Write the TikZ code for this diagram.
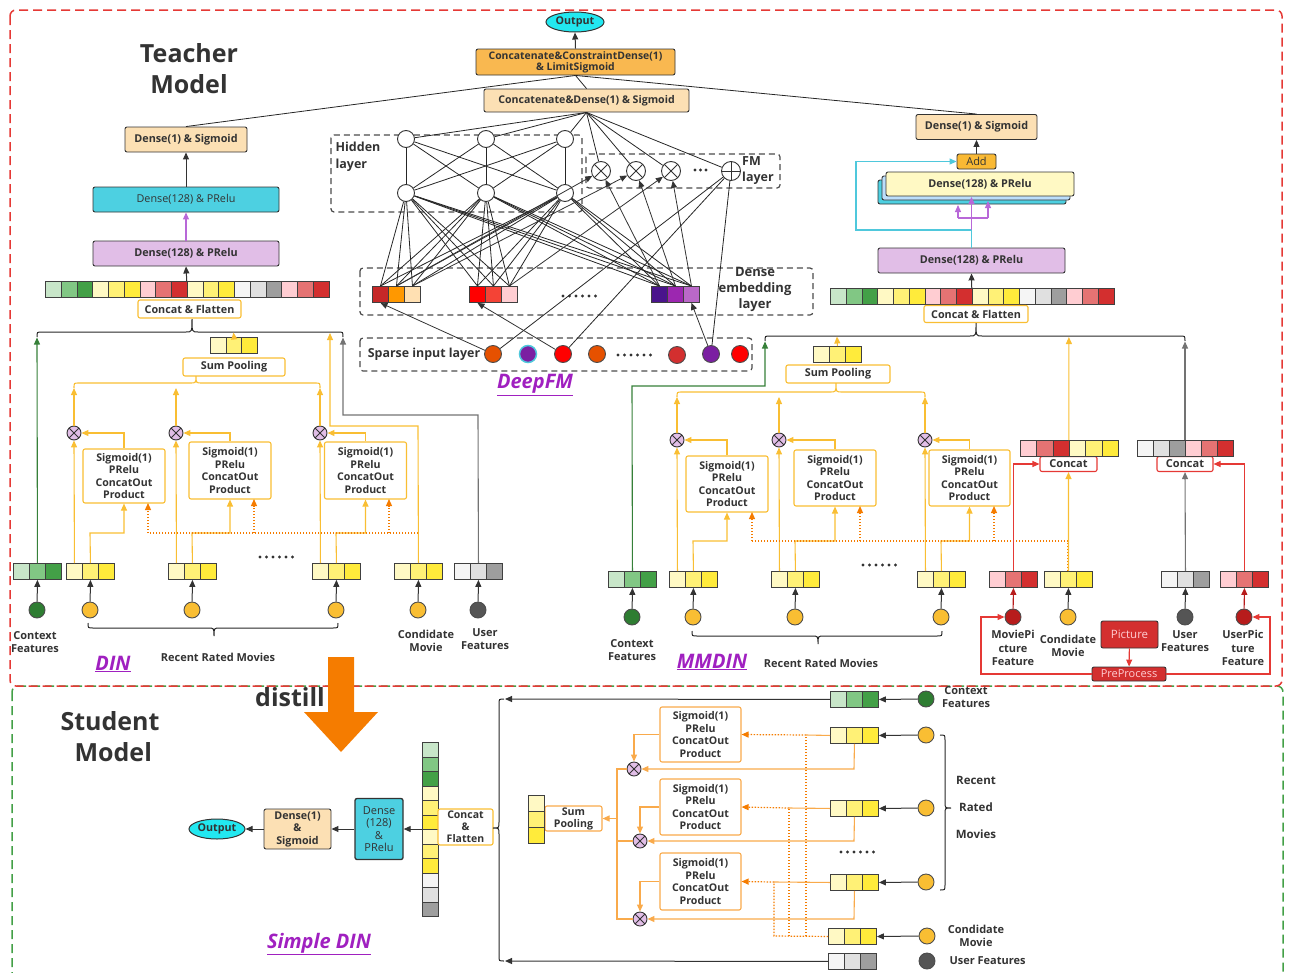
\documentclass[tikz,border=0pt]{standalone}
\usepackage{fontspec}
\setmainfont{Open Sans}
\usetikzlibrary{arrows.meta,shapes.geometric}
\definecolor{g1}{HTML}{C8E6C9}\definecolor{g2}{HTML}{81C784}\definecolor{g3}{HTML}{43A047}
\definecolor{y1}{HTML}{FFF9C4}\definecolor{y2}{HTML}{FFF176}\definecolor{y3}{HTML}{FFEB3B}
\definecolor{r1}{HTML}{FFCDD2}\definecolor{r2}{HTML}{E57373}\definecolor{r3}{HTML}{D32F2F}
\definecolor{w1}{HTML}{F5F5F5}\definecolor{w2}{HTML}{E0E0E0}\definecolor{w3}{HTML}{9E9E9E}
\definecolor{amb}{HTML}{F9BE33}\definecolor{dotc}{HTML}{F57C00}\definecolor{lor}{HTML}{F9AA4B}
\definecolor{cPeach}{HTML}{FCE0B4}\definecolor{cLav}{HTML}{E1BEE7}\definecolor{cTeal}{HTML}{4DD0E1}
\definecolor{cOrg}{HTML}{F9B850}\definecolor{cOut}{HTML}{22E8F0}\definecolor{cPur}{HTML}{A020C0}
\definecolor{cLB}{HTML}{BBDEFB}\definecolor{cAdd}{HTML}{F9B934}\definecolor{txt}{HTML}{333333}
\definecolor{cRed}{HTML}{E53935}\definecolor{dgreen}{HTML}{2E7D32}\definecolor{dgrey}{HTML}{555555}
\definecolor{dred}{HTML}{B71C1C}\definecolor{cyl}{HTML}{4FC8DC}\definecolor{purl}{HTML}{B868D8}
\definecolor{e11}{HTML}{C62828}\definecolor{e12}{HTML}{FF9800}\definecolor{e13}{HTML}{FFE0B2}
\definecolor{e21}{HTML}{FF0000}\definecolor{e22}{HTML}{F44336}\definecolor{e23}{HTML}{FFCDD2}
\definecolor{e31}{HTML}{4A148C}\definecolor{e32}{HTML}{9C27B0}\definecolor{e33}{HTML}{BA68C8}
\definecolor{sOr}{HTML}{E65100}\definecolor{sPu}{HTML}{7B1FA2}
\newcommand\fsz[2]{\fontsize{#1}{#2}\selectfont}
\newcommand\hvec[6][16]{\foreach \cc [count=\ii] in {#6}{\node[cell,fill=\cc,minimum width=#5,minimum height=#1,anchor=north west] (#2-\ii) at ({#3+(\ii-1)*#5},#4) {};}}
\newcommand\vvec[6][16]{\foreach \cc [count=\ii] in {#6}{\node[cell,fill=\cc,minimum width=#1,minimum height=#5,anchor=north west] (#2-\ii) at (#3,{#4+(\ii-1)*#5}) {};}}
\newcommand\hbr[7]{\draw[#1] (#2,{#5+(#7)}) .. controls (#2,#5) .. ({#2+5},#5) -- ({#3-6},#5) .. controls (#3,#5) .. (#3,{#5+(#6)}) .. controls (#3,#5) .. ({#3+6},#5) -- ({#4-5},#5) .. controls (#4,#5) .. (#4,{#5+(#7)});}
\newcommand\vbr[7]{\draw[#1] ({#5+(#7)},#2) .. controls (#5,#2) .. (#5,{#2+5}) -- (#5,{#3-6}) .. controls (#5,#3) .. ({#5+(#6)},#3) .. controls (#5,#3) .. (#5,{#3+6}) -- (#5,{#4-5}) .. controls (#5,#4) .. ({#5+(#7)},#4);}
\newcommand\dotrow[2]{\foreach \k in {0,...,5}{\fill[txt] ({#1+\k*6.5},#2) circle (1.7);}}
\begin{document}
\begin{tikzpicture}[x=1pt,y=-1pt,
 every node/.style={font=\bfseries\fsz{10.8}{13}, text=txt},
 box/.style={draw=black!80,line width=0.9,rounded corners=2,align=center,inner sep=0},
 ybox/.style={draw=amb,line width=1.1,rounded corners=2,align=center,inner sep=0,fill=white},
 sig/.style={font=\bfseries\fsz{10.6}{12.5}},
 obox/.style={draw=lor,line width=1.1,rounded corners=2,align=center,inner sep=0,fill=white,font=\bfseries\fsz{10.6}{12.5}},
 rbox/.style={draw=cRed,line width=1.1,rounded corners=2,align=center,inner sep=0,fill=white,font=\bfseries\fsz{11}{12}},
 cell/.style={draw=black!75,line width=0.9,inner sep=0},
 incirc/.style={circle,draw=black!70,line width=0.9,minimum size=16,inner sep=0},
 hn/.style={circle,draw=black!80,line width=0.9,minimum size=17,inner sep=0,fill=white},
 otimes/.style={circle,draw=black!80,line width=0.9,minimum size=14,inner sep=0,fill=cLav,path picture={\draw[line width=0.9] (path picture bounding box.north west)--(path picture bounding box.south east) (path picture bounding box.south west)--(path picture bounding box.north east);}},
 oplus/.style={circle,draw=black!80,line width=0.9,minimum size=19,inner sep=0,fill=white,path picture={\draw[line width=0.9] (path picture bounding box.north)--(path picture bounding box.south) (path picture bounding box.west)--(path picture bounding box.east);}},
 arr/.style={-{Triangle[length=7pt,width=6pt]},line width=1,draw=black!80},
 kl/.style={line width=0.8,draw=black!85},
 yl/.style={line width=1.1,draw=amb},
 yarr/.style={yl,-{Triangle[length=7pt,width=6pt]}},
 ol/.style={line width=1.1,draw=lor},
 oarr/.style={ol,-{Triangle[length=7pt,width=6pt]}},
 dl/.style={line width=1.2,draw=dotc,dash pattern=on 1.5pt off 1.5pt},
 darr/.style={dl,-{Triangle[length=7pt,width=6pt,fill=dotc]}},
 garr/.style={line width=1.1,draw=g3!80!black,-{Triangle[length=7pt,width=6pt]}},
 grarr/.style={line width=1.1,draw=black!55,-{Triangle[length=7pt,width=6pt]}},
 rarr/.style={line width=1.1,draw=cRed,-{Triangle[length=7pt,width=6pt]}},
 parr/.style={line width=1.1,draw=purl,-{Triangle[length=7pt,width=6pt]}},
 dbox/.style={line width=1.2,draw=black!70,dash pattern=on 6pt off 4pt,rounded corners=3},
 lbl/.style={align=center,font=\bfseries\fsz{11}{13.5}},
 title/.style={align=center,font=\bfseries\fsz{25}{31}},
 mlbl/.style={font=\bfseries\itshape\fsz{20}{22},text=cPur}]
\useasboundingbox (0,0) rectangle (1290,972);
% frames
\draw[line width=1.5,draw=g3,dash pattern=on 9pt off 5pt,rounded corners=6] (12,686) rectangle (1283,990);
\draw[line width=1.5,draw=cRed,dash pattern=on 9pt off 5pt,rounded corners=6] (10,10) rectangle (1282,686);
\node[title] at (189,69) {Teacher\\Model};
\node[title] at (110,737) {Student\\\ Model};

% ===== top =====
\node[ellipse,draw=black!80,line width=1,fill=cOut,minimum width=58,minimum height=20,inner sep=0,font=\bfseries\fsz{10.7}{11}] (out) at (575,22) {Output};
\node[box,fill=cOrg,minimum width=199,minimum height=26,font=\bfseries\fsz{10.4}{11.3}] (ccd) at (575.5,62) {Concatenate\&ConstraintDense(1)\\\& LimitSigmoid};
\draw[arr] (ccd.north) -- (out.south);
\node[box,fill=cPeach,minimum width=205,minimum height=23,font=\bfseries\fsz{10.6}{12}] (cds) at (586.5,100.5) {Concatenate\&Dense(1) \& Sigmoid};

% ===== DIN =====
\node[box,fill=cPeach,minimum width=122,minimum height=25] (dD1) at (186,139.5) {Dense(1) \& Sigmoid};
\node[box,fill=cTeal,minimum width=186,minimum height=25,font=\fsz{10.8}{12}] (dT) at (186,199.5) {Dense(128) \& PRelu};
\node[box,fill=cLav,minimum width=186,minimum height=25] (dL) at (186,253.5) {Dense(128) \& PRelu};
\draw[arr] (dT) -- (dD1);
\draw[parr] (dL) -- (dT);
\draw[kl] (ccd.south) -- (dD1.north);
\draw[kl] (ccd.south) -- (cds.north);
\hvec{dF}{45}{281}{15.75}{g1,g2,g3,y1,y2,y3,r1,r2,r3,y1,y2,y3,w1,w2,w3,r1,r2,r3}
\draw[arr] (dF-10.north west) -- (dL.south);
\node[ybox,minimum width=103,minimum height=18] (dCF) at (189.5,309) {Concat \& Flatten};
\hbr{kl,line width=1}{37}{192}{343}{332}{-13}{5}
\hvec{dSP}{210}{337}{15.7}{y1,y2,y3}
\draw[yarr] (dSP-2.north) -- (233.5,332.5);
\node[ybox,minimum width=102,minimum height=18] (dSPb) at (234,367) {Sum Pooling};
\hbr{yl}{74}{196}{320}{383}{-7}{5}
\hvec{dC}{13}{563}{16}{g1,g2,g3}
\hvec{dM1}{66}{563}{16}{y1,y2,y3}
\hvec{dM2}{168}{563}{16}{y1,y2,y3}
\hvec{dM3}{312}{563}{16}{y1,y2,y3}
\hvec{dCa}{394}{563}{16}{y1,y2,y3}
\hvec{dU}{454}{563}{16}{w1,w2,w3}
\node[otimes] (dX1) at (74,433) {};
\node[otimes] (dX2) at (176,433) {};
\node[otimes] (dX3) at (320,433) {};
\foreach \n/\x in {dX1/74,dX2/176,dX3/320}{\draw[yarr] (\n.north) -- (\x,388);}
\node[ybox,sig,minimum width=82,minimum height=54] (dA1) at (124,476) {Sigmoid(1)\\PRelu\\ConcatOut\\Product};
\node[ybox,sig,minimum width=82,minimum height=57] (dA2) at (230,470.5) {Sigmoid(1)\\PRelu\\ConcatOut\\Product};
\node[ybox,sig,minimum width=82,minimum height=57] (dA3) at (365.5,470.5) {Sigmoid(1)\\PRelu\\ConcatOut\\Product};
\draw[yarr] (dA1.north) |- (dX1.east);
\draw[yarr] (dA2.north) |- (dX2.east);
\draw[yarr] (dA3.north) |- (dX3.east);
\draw[yarr] (dM1-1.north) -- (dX1.south);
\draw[yarr] (dM2-1.north) -- (dX2.south);
\draw[yarr] (dM3-1.north) -- (dX3.south);
\draw[yarr] (dM1-2.north) -- (90,533) -| (dA1.south);
\draw[yarr] (dM2-2.north) -- (192,533) -| (dA2.south);
\draw[yarr] (dM3-2.north) -- (336,533) -| (dA3.south);
\draw[dl] (418,533) -- (148,533);
\draw[darr] (148,533) -- (148,503);
\draw[darr] (254,533) -- (254,499);
\draw[darr] (389,533) -- (389,499);
\draw[yarr] (dCa-2.north) -- (418,426) -- (330,426) -- (330,333);
\draw[grarr] (dU-2.north) -- (478,415) -- (343,415) -- (343,337.5);
\draw[garr] (dC-2.north) -- (37,337.5);
\node[incirc,fill=dgreen] (dCi) at (37,610) {};
\node[incirc,fill=amb] (dM1i) at (90,610) {};
\node[incirc,fill=amb] (dM2i) at (192,610) {};
\node[incirc,fill=amb] (dM3i) at (336,610) {};
\node[incirc,fill=amb] (dCai) at (418,610) {};
\node[incirc,fill=dgrey] (dUi) at (478,610) {};
\draw[arr] (dCi) -- (dC-2.south);
\draw[arr] (dM1i) -- (dM1-2.south);
\draw[arr] (dM2i) -- (dM2-2.south);
\draw[arr] (dM3i) -- (dM3-2.south);
\draw[arr] (dCai) -- (dCa-2.south);
\draw[arr] (dUi) -- (dU-2.south);
\dotrow{260}{557}
\hbr{kl,line width=1}{88}{214}{338}{628}{8}{-5}
\node[lbl] at (35,642) {Context\\Features};
\node[lbl] at (218,657) {Recent Rated Movies};
\node[lbl] at (426,641) {Condidate\\Movie};
\node[lbl] at (485,639) {User\\Features};
\node[mlbl] at (113,664) {\underline{DIN}};

% ===== DeepFM =====
\draw[dbox] (331,135) rectangle (582,212);
\node[lbl,align=left,font=\bfseries\fsz{12.5}{17}] at (358,157) {Hidden\\layer};
\node[hn] (h11) at (406,139) {};
\node[hn] (h12) at (486,139) {};
\node[hn] (h13) at (565,139) {};
\node[hn] (h21) at (406,193) {};
\node[hn] (h22) at (486,193) {};
\node[hn] (h23) at (565,193) {};
\draw[dbox] (586,154) rectangle (780,188);
\node[otimes,fill=white,minimum size=19] (fm1) at (601,171) {};
\node[otimes,fill=white,minimum size=19] (fm2) at (636,171) {};
\node[otimes,fill=white,minimum size=19] (fm3) at (671,171) {};
\node[oplus] (fp) at (731,171) {};
\foreach \k in {0,1,2}{\fill[txt] ({695+\k*5.5},170) circle (1.6);}
\node[lbl,align=left,font=\bfseries\fsz{12.5}{16}] at (758,171) {FM\\layer};
\draw[dbox] (360,268) rectangle (813,315);
\draw[dbox] (360,338) rectangle (752,371);
\hvec{e1}{372}{286}{16}{e11,e12,e13}
\hvec{e2}{469}{286}{16}{e21,e22,e23}
\hvec{e3}{651}{286}{16}{e31,e32,e33}
\dotrow{563}{296}
\node[lbl,font=\bfseries\fsz{13}{16}] at (755,289) {Dense\\embedding\\layer};
\node[lbl,font=\bfseries\fsz{12.4}{14}] at (424,354) {Sparse input layer};
\node[incirc,fill=sOr,minimum size=17] (s1) at (493,354) {};
\node[incirc,fill=sPu,draw=cyl,line width=1.5,minimum size=17] (s2) at (528,354) {};
\node[incirc,fill=red,minimum size=17] (s3) at (563,354) {};
\node[incirc,fill=sOr,minimum size=17] (s4) at (597,354) {};
\dotrow{618}{355}
\node[incirc,fill=r3,minimum size=17] (s5) at (677,355) {};
\node[incirc,fill=sPu,minimum size=17] (s6) at (711,354) {};
\node[incirc,fill=red,minimum size=17] (s7) at (740,354) {};
\node[mlbl] at (535,385) {\underline{DeepFM}};
\foreach \t in {h11,h12,h13,fm1,fm2,fm3,fp}{\draw[kl] (cds.south) -- (\t);}
\foreach \a in {h11,h12,h13}{\foreach \b in {h21,h22,h23}{\draw[kl] (\a) -- (\b);}}
\foreach \a in {h21,h22,h23}{\foreach \b in {e1-1,e1-2,e1-3,e2-1,e2-2,e2-3,e3-1,e3-2,e3-3}{\draw[kl] (\a) -- (\b.north);}}
\draw[arr,line width=0.8] (e1-2.north) -- (fm1);
\draw[arr,line width=0.8] (e3-1.north) -- (fm1);
\draw[arr,line width=0.8] (e1-3.north) -- (fm2);
\draw[arr,line width=0.8] (e3-2.north) -- (fm2);
\draw[arr,line width=0.8] (e2-3.north) -- (fm3);
\draw[arr,line width=0.8] (e3-3.north) -- (fm3);
\draw[kl] (fp) -- (s1);
\draw[kl] (fp) -- (s3);
\draw[kl] (fp) -- (s6);
\draw[arr,line width=0.8] (s1) -- (e1-1.south);
\draw[arr,line width=0.8] (s3) -- (e2-1.south);
\draw[arr,line width=0.8] (s6) -- (e3-3.south);

% ===== MMDIN =====
\node[box,fill=cPeach,minimum width=121,minimum height=25] (mD1) at (976.5,127) {Dense(1) \& Sigmoid};
\draw[kl] (ccd.south) -- (mD1.north);
\node[box,fill=cAdd,minimum width=39,minimum height=15,font=\fsz{11}{11}] (add) at (976.5,161.5) {Add};
\draw[arr] (add) -- (mD1);
\node[box,fill=cTeal,minimum width=188,minimum height=24] (mS3) at (972,192) {};
\node[box,fill=cLB,minimum width=188,minimum height=24] (mS2) at (976,188) {};
\node[box,fill=y1,minimum width=188,minimum height=24] (mS) at (980,184) {Dense(128) \& PRelu};
\node[box,fill=cLav,minimum width=187,minimum height=25] (mL) at (971.5,260.5) {Dense(128) \& PRelu};
\draw[line width=1.1,draw=cyl,-{Triangle[length=7pt,width=6pt]}] (mL.north) -- (971.5,230) -- (856,230) -- (856,161.5) -- (add.west);
\draw[parr] (971.5,230) -- (971.5,197);
\draw[line width=1.1,draw=purl] (958,218) -- (988,218);
\draw[parr] (958,218) -- (958,205);
\draw[parr] (988,218) -- (988,201);
\hvec{mF}{830}{288}{15.75}{g1,g2,g3,y1,y2,y3,r1,r2,r3,y1,y2,y3,w1,w2,w3,r1,r2,r3}
\draw[arr] (mF-10.north west) -- (mL.south);
\node[ybox,minimum width=104,minimum height=17] (mCF) at (976,314) {Concat \& Flatten};
\hbr{kl,line width=1}{765}{976}{1185}{336}{-13}{5}
\hvec{mSP}{813}{346}{16}{y1,y2,y3}
\draw[yarr] (mSP-2.north) -- (837,336.5);
\node[ybox,minimum width=104,minimum height=18] (mSPb) at (838,374) {Sum Pooling};
\hbr{yl}{677}{836}{925}{392}{-9}{5}
\hvec{mC}{608}{571}{16}{g1,g2,g3}
\hvec{mM1}{669}{571}{16}{y1,y2,y3}
\hvec{mM2}{771}{571}{16}{y1,y2,y3}
\hvec{mM3}{917}{571}{16}{y1,y2,y3}
\hvec{mMP}{989}{571}{16}{r1,r2,r3}
\hvec{mCa}{1044}{571}{16}{y1,y2,y3}
\hvec{mU}{1161}{571}{16}{w1,w2,w3}
\hvec{mUP}{1220}{571}{16}{r1,r2,r3}
\node[otimes] (mX1) at (677,440) {};
\node[otimes] (mX2) at (779,440) {};
\node[otimes] (mX3) at (925,440) {};
\foreach \n/\x in {mX1/677,mX2/779,mX3/925}{\draw[yarr] (\n.north) -- (\x,397);}
\node[ybox,sig,minimum width=82,minimum height=56] (mA1) at (727,484) {Sigmoid(1)\\PRelu\\ConcatOut\\Product};
\node[ybox,sig,minimum width=82,minimum height=56] (mA2) at (835,478) {Sigmoid(1)\\PRelu\\ConcatOut\\Product};
\node[ybox,sig,minimum width=81,minimum height=56] (mA3) at (969.5,478) {Sigmoid(1)\\PRelu\\ConcatOut\\Product};
\draw[yarr] (mA1.north) |- (mX1.east);
\draw[yarr] (mA2.north) |- (mX2.east);
\draw[yarr] (mA3.north) |- (mX3.east);
\draw[yarr] (mM1-1.north) -- (mX1.south);
\draw[yarr] (mM2-1.north) -- (mX2.south);
\draw[yarr] (mM3-1.north) -- (mX3.south);
\draw[yarr] (mM1-2.north) -- (693,541) -| (mA1.south);
\draw[yarr] (mM2-2.north) -- (795,541) -| (mA2.south);
\draw[yarr] (mM3-2.north) -- (941,541) -| (mA3.south);
\draw[dl] (1068,571) -- (1068,541) -- (752,541);
\draw[darr] (752,541) -- (752,512);
\draw[darr] (860,541) -- (860,506);
\draw[darr] (994,541) -- (994,506);
\draw[garr] (mC-2.north) -- (632,386) -- (765,386) -- (765,341.5);
\node[rbox,minimum width=57,minimum height=15] (mCL) at (1068.5,464) {Concat};
\node[rbox,minimum width=56,minimum height=15] (mCR) at (1185,464) {Concat};
\hvec{mCLv}{1020}{440}{16.3}{r1,r2,r3,y1,y2,y3}
\hvec{mCRv}{1137}{440}{16}{w1,w2,w3,r1,r2,r3}
\draw[yarr] (mCLv-4.north west) -- (1068.9,337);
\draw[grarr] (mCRv-4.north west) -- (1185,341.5);
\draw[yarr] (mCa-2.north) -- (mCL.south);
\draw[grarr] (mU-2.north) -- (mCR.south);
\draw[rarr] (mMP-2.north) |- (mCL.west);
\draw[rarr] (mUP-2.north) |- (mCR.east);
\node[incirc,fill=dgreen] (mCi) at (632,617) {};
\node[incirc,fill=amb] (mM1i) at (693,617) {};
\node[incirc,fill=amb] (mM2i) at (795,617) {};
\node[incirc,fill=amb] (mM3i) at (941,617) {};
\node[incirc,fill=dred] (mMPi) at (1013,617) {};
\node[incirc,fill=amb] (mCai) at (1068,617) {};
\node[incirc,fill=dgrey] (mUi) at (1185,617) {};
\node[incirc,fill=dred] (mUPi) at (1244,617) {};
\draw[arr] (mCi) -- (mC-2.south);
\draw[arr] (mM1i) -- (mM1-2.south);
\draw[arr] (mM2i) -- (mM2-2.south);
\draw[arr] (mM3i) -- (mM3-2.south);
\draw[rarr,draw=dred] (mMPi) -- (mMP-2.south);
\draw[arr] (mCai) -- (mCa-2.south);
\draw[arr] (mUi) -- (mU-2.south);
\draw[rarr,draw=dred] (mUPi) -- (mUP-2.south);
\node[box,fill=r3,minimum width=57,minimum height=27,font=\fsz{11.5}{12},text=r1] (pic) at (1129.5,634.5) {Picture};
\node[box,fill=r3,minimum width=74,minimum height=14,font=\fsz{11}{12},text=r1] (pre) at (1129,674) {PreProcess};
\draw[rarr] (pic) -- (pre);
\draw[rarr] (pre.west) -- (981,674) -- (981,617) -- (mMPi.west);
\draw[rarr] (pre.east) -- (1270,674) -- (1270,617) -- (mUPi.east);
\dotrow{863}{565}
\hbr{kl,line width=1}{692}{818}{942}{636}{8}{-5}
\node[lbl] at (632,650) {Context\\Features};
\node[lbl] at (821,663) {Recent Rated Movies};
\node[mlbl] at (712,662) {\underline{MMDIN}};
\node[lbl,font=\bfseries\fsz{11}{13.5}] at (1013,648) {MoviePi\\cture\\Feature};
\node[lbl] at (1068,646) {Condidate\\Movie};
\node[lbl] at (1185,641) {User\\Features};
\node[lbl,font=\bfseries\fsz{11}{13.5}] at (1243,648) {UserPic\\ture\\Feature};

% ===== distill =====
\fill[dotc] (328,657) -- (354,657) -- (354,712) -- (378,712) -- (341,752) -- (304,712) -- (328,712) -- cycle;
\node[title] at (290,697) {distill};

% ===== Simple DIN =====
\node[ellipse,draw=black!80,line width=1,fill=cOut,minimum width=56,minimum height=20,inner sep=0,font=\bfseries\fsz{10.7}{11}] (sO) at (217,829) {Output};
\node[box,fill=cPeach,minimum width=67,minimum height=40,font=\bfseries\fsz{10.7}{12.5}] (sD1) at (297.5,829) {Dense(1)\\\&\\Sigmoid};
\node[box,fill=cTeal,line width=1.3,minimum width=48,minimum height=61,font=\fsz{11}{12.5}] (sT) at (379,829) {Dense\\(128)\\\&\\PRelu};
\vvec{sV}{422}{742}{14.5}{g1,g2,g3,y1,y2,y3,y1,y2,y3,w1,w2,w3}
\draw[arr] (sV-7.north west) -- (sT.east);
\draw[arr] (sT.west) -- (sD1.east);
\draw[arr] (sD1.west) -- (sO.east);
\node[ybox,minimum width=55,minimum height=36,font=\bfseries\fsz{10.5}{12}] (sCF) at (465.5,827) {Concat\\\&\\Flatten};
\vbr{kl,line width=1}{699}{828}{961}{499}{-6}{5}
\hvec{sC}{830}{691}{16}{g1,g2,g3}
\hvec{sM1}{830}{727}{16}{y1,y2,y3}
\hvec{sM2}{830}{800}{16}{y1,y2,y3}
\hvec{sM3}{830}{874}{16}{y1,y2,y3}
\hvec{sCa}{828}{928}{16}{y1,y2,y3}
\hvec{sU}{828}{953}{16}{w1,w2,w3}
\draw[arr] (sC-1.west) -- (505,699);
\draw[arr] (sU-1.west) -- (505,961);
\node[incirc,fill=dgreen] (sCi) at (926,699) {};
\node[incirc,fill=amb] (sM1i) at (926,735) {};
\node[incirc,fill=amb] (sM2i) at (926,808) {};
\node[incirc,fill=amb] (sM3i) at (926,882) {};
\node[incirc,fill=amb] (sCai) at (927,936) {};
\node[incirc,fill=dgrey] (sUi) at (927,961) {};
\draw[arr] (sCi) -- (sC-3.east);
\draw[arr] (sM1i) -- (sM1-3.east);
\draw[arr] (sM2i) -- (sM2-3.east);
\draw[arr] (sM3i) -- (sM3-3.east);
\draw[arr] (sCai) -- (sCa-3.east);
\dotrow{841}{852}
\vbr{kl,line width=1}{735}{808}{890}{945}{6}{-5}
\node[lbl,font=\bfseries\fsz{11.5}{13}] at (976,780) {Recent};
\node[lbl,font=\bfseries\fsz{11.5}{13}] at (976,807) {Rated};
\node[lbl,font=\bfseries\fsz{11.5}{13}] at (976,834) {Movies};
\node[lbl] at (966,697) {Context\\Features};
\node[lbl] at (976,936) {Condidate\\Movie};
\node[lbl,anchor=west] at (946,961) {User Features};
\node[obox,minimum width=81,minimum height=55] (sA1) at (700.5,734.5) {Sigmoid(1)\\PRelu\\ConcatOut\\Product};
\node[obox,minimum width=81,minimum height=56] (sA2) at (700.5,807) {Sigmoid(1)\\PRelu\\ConcatOut\\Product};
\node[obox,minimum width=81,minimum height=57] (sA3) at (700.5,881.5) {Sigmoid(1)\\PRelu\\ConcatOut\\Product};
\node[otimes] (sX1) at (634,769) {};
\node[otimes] (sX2) at (640,841) {};
\node[otimes] (sX3) at (640,919) {};
\draw[ol] (sM1-1.west) -- (806,735);
\draw[ol] (sM2-1.west) -- (789,808);
\draw[ol] (sM3-1.west) -- (774,882);
\draw[dl] (sCa-1.west) -- (774,936) -- (774,882);
\draw[dl] (789,936) -- (789,808);
\draw[dl] (806,936) -- (806,735);
\draw[darr] (806,735) -- (sA1.east);
\draw[darr] (789,808) -- (sA2.east);
\draw[darr] (774,882) -- (sA3.east);
\draw[oarr] (sM1-2.south) -- (854,769) -- (sX1.east);
\draw[oarr] (sM2-2.south) -- (854,841) -- (sX2.east);
\draw[oarr] (sM3-2.south) -- (854,919) -- (sX3.east);
\draw[oarr] (sA1.west) -| (sX1.north);
\draw[oarr] (sA2.west) -| (sX2.north);
\draw[oarr] (sA3.west) -| (sX3.north);
\draw[ol] (sX1.west) -- (617,769) -- (617,919) -- (sX3.west);
\draw[ol] (sX2.west) -- (617,841);
\node[obox,minimum width=57,minimum height=25,font=\bfseries\fsz{10.6}{12}] (sSP) at (573.5,818.5) {Sum\\Pooling};
\draw[oarr] (617,818.5) -- (sSP.east);
\vvec{sSPv}{528}{795}{16}{y1,y2,y3}
\node[mlbl] at (319,944) {\underline{Simple DIN}};
\end{tikzpicture}
\end{document}
